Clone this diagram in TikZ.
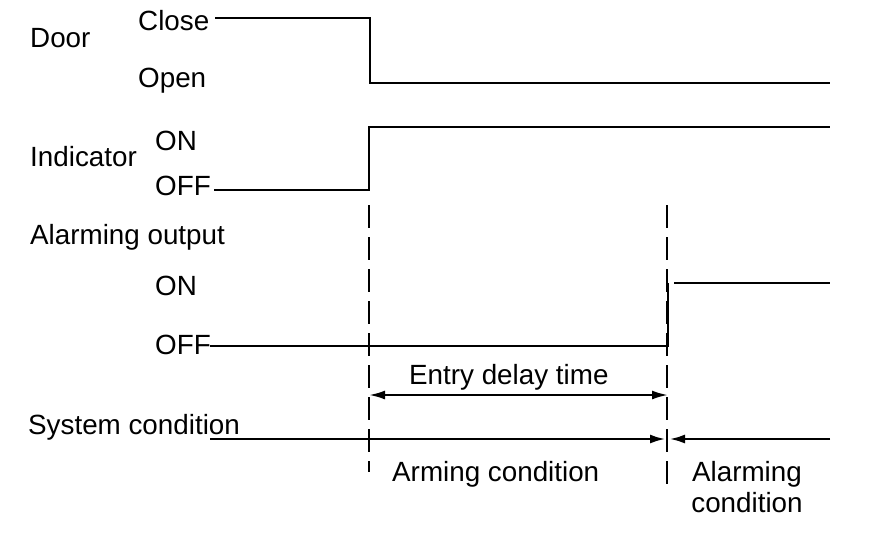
\documentclass[tikz,border=0pt]{standalone}
\usepackage{fontspec}
\setmainfont{Liberation Sans}
\usetikzlibrary{arrows.meta}

\begin{document}
\begin{tikzpicture}[x=1pt,y=-1pt,
	txt/.style={font=\fontsize{27.8}{32}\selectfont,inner sep=0pt,anchor=base west},
	wave/.style={line width=1.8pt},
	guide/.style={line width=1.5pt,dash pattern=on 23pt off 9pt},
	tip/.tip={Latex[length=16pt,width=9pt]}]
\useasboundingbox (0,0) rectangle (880,536);
% signal names
\draw (30,47)node[txt](door){Door};
\draw (138,30)node[txt](close){Close};
\draw (138,87)node[txt](open){Open};
\draw (30,166)node[txt](ind){Indicator};
\draw (155,150)node[txt](indon){ON};
\draw (155,195)node[txt](indoff){OFF};
\draw (30,244)node[txt](alarm){Alarming output};
\draw (155,295)node[txt](alon){ON};
\draw (155,354)node[txt](aloff){OFF};
\draw (28,434)node[txt](sys){System condition};
% waveforms
\draw [wave] (215,18)--(370,18)--(370,83)--(830,83);
\draw [wave] (214,190)--(369,190)--(369,127)--(830,127);
\draw [wave] (210,346)--(668,346)--(668,283);
\draw [wave] (674,283)--(830,283);
% time marks
\draw [guide] (369,205)--(369,472);
\draw [guide] (667,205)--(667,487);
\draw [line width=2.2pt,tip-tip] (369,395)--(668,395);
\draw (409,384)node[txt](delay){Entry delay time};
\draw [line width=2.8pt,-tip] (210,439)--(666,439);
\draw [line width=2.8pt,-tip] (830,439)--(669,439);
\draw (392,481)node[txt](arm){Arming condition};
\draw (747,481)node[txt,anchor=base](alc){Alarming};
\draw (747,512)node[txt,anchor=base](alc2){condition};
\end{tikzpicture}
\end{document}
